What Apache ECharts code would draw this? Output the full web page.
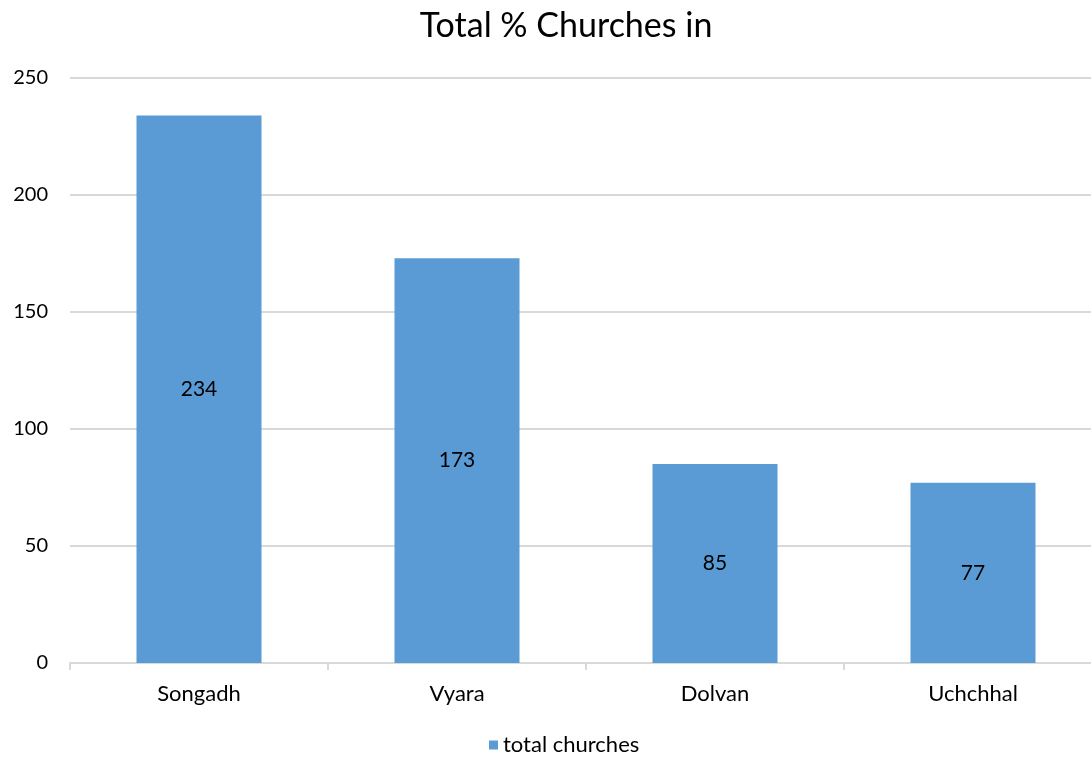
<!DOCTYPE html>
<html><head><meta charset="utf-8">
<script src="https://cdn.jsdelivr.net/npm/echarts@6/dist/echarts.min.js"></script>
<style>html,body{margin:0;padding:0;background:#fff;overflow:hidden;width:1091px;height:758px}#c{width:1102px;height:758px}</style>
</head><body><div id="c"></div>
<script>
const categories = ['Songadh', 'Vyara', 'Dolvan', 'Uchchhal'];
const totalChurches = [234, 173, 85, 77];
const seriesName = 'total churches';
const titleText = 'Total % Churches in';
const FONT = 'Lato, "Open Sans", sans-serif';
const chart = echarts.init(document.getElementById('c'), null, {renderer: 'canvas'});
chart.setOption({
  animation: false,
  backgroundColor: '#fff',
  title: {text: titleText, left: 561, top: 4, textAlign: 'center',
    textStyle: {fontFamily: FONT, fontSize: 34, fontWeight: 'normal', color: '#000'}},
  legend: {top: 734, left: 489, padding: 0, itemWidth: 9, itemHeight: 9, itemGap: 6,
    icon: 'rect', data: [seriesName],
    textStyle: {fontFamily: FONT, fontSize: 22, color: '#000'}},
  grid: {left: 70, right: 0, top: 78, bottom: 95},
  xAxis: {type: 'category', data: categories,
    axisLine: {lineStyle: {color: '#d9d9d9', width: 2}},
    axisTick: {show: true, length: 7, lineStyle: {color: '#d9d9d9', width: 2}},
    axisLabel: {fontFamily: FONT, fontSize: 22, color: '#000', margin: 20}},
  yAxis: {type: 'value', min: 0, max: 250, interval: 50,
    axisLine: {show: false}, axisTick: {show: false},
    splitLine: {lineStyle: {color: '#d9d9d9', width: 2}},
    axisLabel: {fontFamily: FONT, fontSize: 20, color: '#000', margin: 22}},
  series: [{name: seriesName, type: 'bar', data: totalChurches, barWidth: 125,
    itemStyle: {color: '#5B9BD5'},
    label: {show: true, position: 'inside', fontFamily: FONT, fontSize: 21, color: '#000'}}]
});
</script></body></html>
